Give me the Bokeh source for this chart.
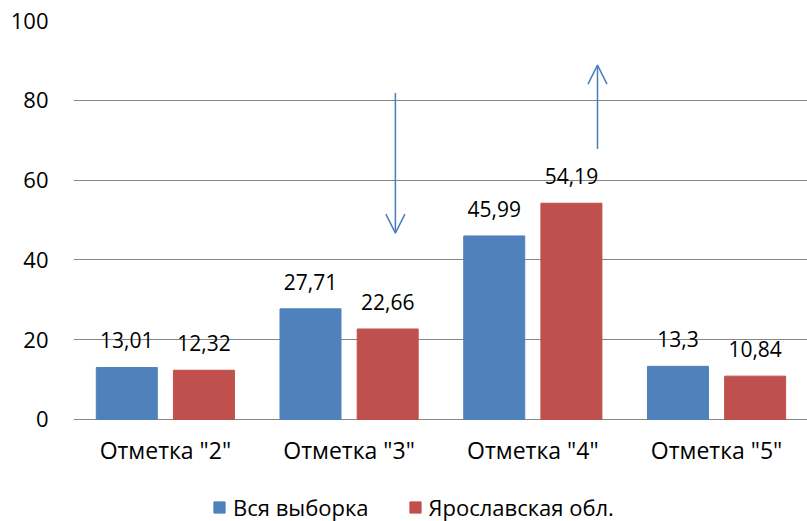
from bokeh.plotting import figure
from bokeh.models import (ColumnDataSource, Range1d, FixedTicker, Legend, LegendItem,
                          Arrow, OpenHead)
from bokeh.transform import dodge
from bokeh.core.properties import value
from bokeh.embed import file_html
from bokeh.resources import INLINE

categories = ['Отметка "2"', 'Отметка "3"', 'Отметка "4"', 'Отметка "5"']
series_names = ["Вся выборка", "Ярославская обл."]
vsya = [13.01, 27.71, 45.99, 13.3]
yaroslavl = [12.32, 22.66, 54.19, 10.84]
y_ticks = [0, 20, 40, 60, 80, 100]

# annotation arrows (data coordinates)
arrow_x = [1.752, 2.852]
arrow_y_start = [81.8, 67.8]
arrow_y_end = [46.7, 88.8]

FONT = "Open Sans"
BLUE = "#4F81BD"
RED = "#C0504D"

xs = [i + 0.5 for i in range(len(categories))]
fmt = lambda v: f"{v:g}".replace(".", ",")
src = ColumnDataSource(dict(
    x=xs, a=vsya, b=yaroslavl, zero=[0] * len(xs), cat=categories,
    a_lbl=[fmt(v) for v in vsya], b_lbl=[fmt(v) for v in yaroslavl],
))

p = figure(width=807, height=521, output_backend="svg", toolbar_location=None,
           x_range=Range1d(0, 3.995), y_range=Range1d(-25.6, 100),
           min_border_left=73, min_border_right=0, min_border_top=20,
           min_border_bottom=0)
p.outline_line_color = None
p.background_fill_color = None
p.border_fill_color = "white"

off = 0.21
w = 0.332
r1 = p.vbar(x=dodge("x", -off, range=p.x_range), top="a", width=w, source=src,
            fill_color=BLUE, line_color=BLUE)
r2 = p.vbar(x=dodge("x", off, range=p.x_range), top="b", width=w, source=src,
            fill_color=RED, line_color=RED)

for col, lbl, d in (("a", "a_lbl", -off), ("b", "b_lbl", off)):
    p.text(x=dodge("x", d, range=p.x_range), y=col, text=lbl, source=src,
           text_align="center", text_baseline="alphabetic", y_offset=-27,
           text_font=value(FONT), text_font_size="21px", text_color="#000000")

# category labels (x axis) at y = 0
p.text(x="x", y="zero", text="cat", source=src, text_align="center",
       text_baseline="alphabetic", y_offset=31,
       text_font=value(FONT), text_font_size="23px", text_color="#000000")

asrc = ColumnDataSource(dict(x=arrow_x, y0=arrow_y_start, y1=arrow_y_end))
p.add_layout(Arrow(x_start="x", y_start="y0", x_end="x", y_end="y1", source=asrc,
                   line_color="#4A7EBB", line_width=1.5,
                   end=OpenHead(size=19, line_color="#4A7EBB", line_width=1.5)))

# axes
p.xaxis.visible = False
p.xgrid.grid_line_color = None
p.ygrid.grid_line_color = "#868686"
p.ygrid.grid_line_width = 1.2
p.yaxis.ticker = FixedTicker(ticks=y_ticks)
p.yaxis.axis_line_color = None
p.yaxis.major_tick_line_color = None
p.yaxis.minor_tick_line_color = None
p.yaxis.major_tick_out = 0
p.yaxis.major_label_standoff = 25
p.yaxis.major_label_text_font = FONT
p.yaxis.major_label_text_font_size = "22px"
p.yaxis.major_label_text_color = "#000000"

legend = Legend(items=[LegendItem(label=series_names[0], renderers=[r1]),
                       LegendItem(label=series_names[1], renderers=[r2])],
                location=(139, -1), orientation="horizontal",
                label_text_font=FONT, label_text_font_size="22px",
                label_text_color="#000000",
                glyph_width=14, glyph_height=14, label_standoff=7,
                spacing=39, padding=0, margin=0,
                border_line_color=None, background_fill_alpha=0)
p.add_layout(legend, "center")

open("out.html", "w").write(file_html(p, INLINE))
